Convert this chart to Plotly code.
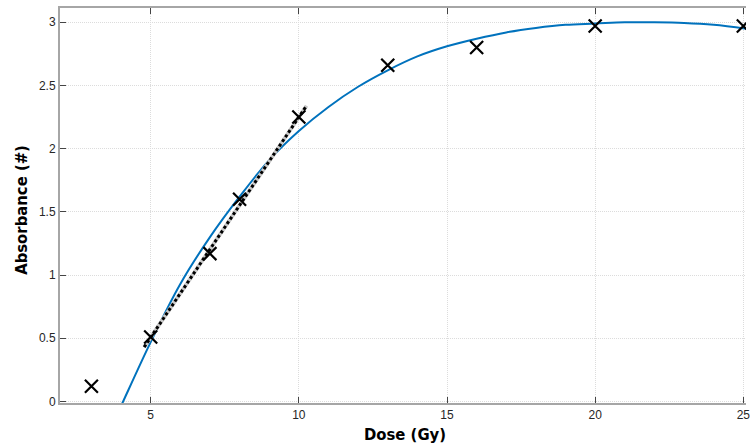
import plotly.graph_objects as go

# Measured data points
dose = [3, 5, 7, 8, 10, 13, 16, 20, 25]
absorbance = [0.12, 0.51, 1.17, 1.6, 2.25, 2.66, 2.80, 2.97, 2.97]

# Fitted curve
fit_x = [4.0, 4.07, 5.0, 6.0, 7.0, 8.0, 9.0, 10.0, 11.0, 12.0, 13.0, 14.0, 15.0,
         16.0, 17.0, 18.0, 19.0, 20.0, 21.0, 22.0, 23.0, 24.0, 25.2]
fit_y = [-0.035, 0.0, 0.47, 0.93, 1.30, 1.62, 1.91, 2.14, 2.33, 2.49, 2.62, 2.73, 2.81,
         2.87, 2.92, 2.955, 2.98, 2.99, 3.0, 3.0, 2.995, 2.98, 2.945]

# Linear fit over the low-dose region
lin_x = [4.78, 10.26]
lin_y = [0.43, 2.34]

x_ticks = [5, 10, 15, 20, 25]
y_ticks = [0, 0.5, 1, 1.5, 2, 2.5, 3]
y_tick_labels = ["0", "0.5", "1", "1.5", "2", "2.5", "3"]

fig = go.Figure()

fig.add_trace(go.Scatter(x=fit_x, y=fit_y, mode="lines", line_shape="spline",
                         line=dict(color="#0072BD", width=2), hoverinfo="skip"))
fig.add_trace(go.Scatter(x=lin_x, y=lin_y, mode="lines",
                         line=dict(color="#c8c8c8", width=3.8), hoverinfo="skip"))
fig.add_trace(go.Scatter(x=lin_x, y=lin_y, mode="lines",
                         line=dict(color="black", width=3, dash="3px,2.5px"), hoverinfo="skip"))
fig.add_trace(go.Scatter(x=dose, y=absorbance, mode="markers",
                         marker=dict(symbol="x-thin", size=13,
                                     line=dict(color="black", width=2.2))))

fig.update_layout(
    width=750, height=447,
    margin=dict(l=60, r=0, t=8, b=44),
    paper_bgcolor="white", plot_bgcolor="white",
    showlegend=False,
    font=dict(family="Liberation Sans, Arial, sans-serif", size=12, color="#262626"),
)

fig.update_xaxes(
    range=[1.94, 25.09], tickvals=x_ticks,
    ticks="inside", ticklen=6, tickwidth=1, tickcolor="#444",
    showline=True, linecolor="#a6a6a6", linewidth=2, mirror="ticks",
    showgrid=True, gridcolor="#dcdcdc", gridwidth=1, griddash="1px,1px",
    zeroline=False, tickfont=dict(size=12, color="#262626"),
    ticklabeloverflow="allow",
)
fig.update_yaxes(
    range=[-0.012, 3.113], tickvals=y_ticks, ticktext=y_tick_labels,
    ticks="inside", ticklen=6, tickwidth=1, tickcolor="#444",
    showline=True, linecolor="#a6a6a6", linewidth=2, mirror=False,
    showgrid=True, gridcolor="#dcdcdc", gridwidth=1, griddash="1px,1px",
    zeroline=False, tickfont=dict(size=12, color="#262626"),
)

title_font = dict(family="DejaVu Sans Condensed, Liberation Sans, sans-serif", size=16.5,
                  color="black", weight=700)
fig.add_annotation(text="Dose (Gy)", xref="paper", yref="paper", x=0.503, y=0,
                   xanchor="center", yanchor="middle", yshift=-31, showarrow=False,
                   font=title_font)
fig.add_annotation(text="Absorbance (#)", xref="paper", yref="paper", x=0, y=0.489,
                   xanchor="center", yanchor="middle", xshift=-38, textangle=-90,
                   showarrow=False, font=title_font)

fig.write_html("out.html", config={"displayModeBar": False},
               post_script="document.body.style.margin='0';document.body.style.overflow='hidden';")
